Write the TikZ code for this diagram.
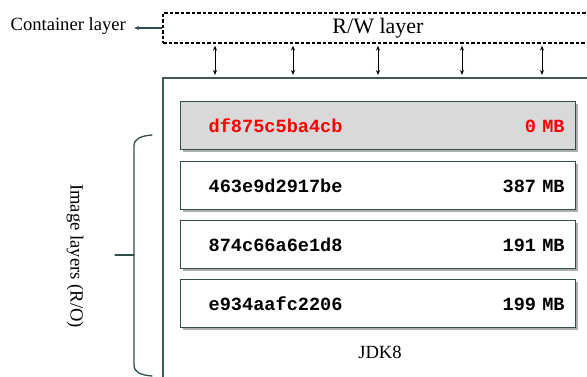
\documentclass[tikz,border=0pt]{standalone}
\usepackage{fontspec}
\setmainfont{Liberation Serif}
\setmonofont{Liberation Mono}
\usetikzlibrary{positioning, arrows.meta, shadows, calc}

\definecolor{slate}{RGB}{47,79,79}
\definecolor{layergray}{RGB}{217,217,217}
\definecolor{hashred}{RGB}{255,0,0}

\begin{document}
\begin{tikzpicture}[
    x=1pt, y=-1pt,
    font=\fontsize{18.6}{22}\selectfont,
    layerbox/.style={
        draw=slate, line width=1.3pt, fill=#1,
        minimum width=395pt, minimum height=48pt,
        text width=373pt, inner xsep=11pt, inner ysep=0pt,
        font=\fontsize{18.6}{22}\selectfont\ttfamily\bfseries,
        drop shadow={shadow xshift=2.5pt, shadow yshift=-2.5pt,
            opacity=0.45, fill=black!70}
    },
    rwbox/.style={
        draw=black, line width=1.3pt, dash pattern=on 3.5pt off 2pt,
        minimum width=430pt, minimum height=30pt, inner sep=0pt,
        font=\fontsize{22}{26}\selectfont
    },
    imgbox/.style={
        draw=slate!80!gray, line width=1.8pt,
        minimum width=440pt, minimum height=320pt, inner sep=0pt
    },
    rwarrow/.style={
        {Stealth[length=5pt, width=4pt]}-{Stealth[length=5pt, width=4pt]},
        line width=0.9pt, draw=black, shorten >=2pt, shorten <=2pt
    },
    outarrow/.style={
        -{Stealth[length=5pt, width=4pt]},
        line width=1.2pt, draw=slate, solid
    },
    bracestyle/.style={
        draw=slate, line width=1.3pt, line cap=round
    }
]
\useasboundingbox (0,0) rectangle (587,377);

% --- R/W (container) layer ---
\node[rwbox] (rw) at (378,28) {R/W layer};
\node[anchor=east, inner sep=0pt] (cl) at (126,26) {Container layer};
\draw[outarrow] (rw.west) -- ([xshift=8pt]cl.east |- rw.west);

% --- Image box ---
\node[imgbox, anchor=north west] (img) at (162,77) {};
\node (jdk) at (380,352) {JDK8};

% --- Read/write access ---
\foreach \xa in {215,293,378,462,542}
    \draw[rwarrow] (rw.south -| \xa,0) -- (img.north -| \xa,0);

% --- Layers ---
\node[layerbox=layergray, anchor=north west, text=hashred] (l1) at (180,101)
    {\hspace*{17pt}df875c5ba4cb\hfill 0 MB};
\node[layerbox=white, below=10.7pt of l1] (l2)
    {\hspace*{17pt}463e9d2917be\hfill 387 MB};
\node[layerbox=white, below=9.7pt of l2] (l3)
    {\hspace*{17pt}874c66a6e1d8\hfill 191 MB};
\node[layerbox=white, below=9.7pt of l3] (l4)
    {\hspace*{17pt}e934aafc2206\hfill 199 MB};

% --- Brace and label ---
\coordinate (bt) at (152,135);
\coordinate (bb) at (152,376);
\coordinate (bm) at (115,255);
\draw[bracestyle] (bt) .. controls (140,136) and (134,139) .. (134,146)
    -- (134,365) .. controls (134,372) and (140,375) .. (bb);
\draw[bracestyle] (bm) -- (134,255);
\node[rotate=-90] (imgl) at (75,256) {Image layers (R/O)};

\end{tikzpicture}
\end{document}
